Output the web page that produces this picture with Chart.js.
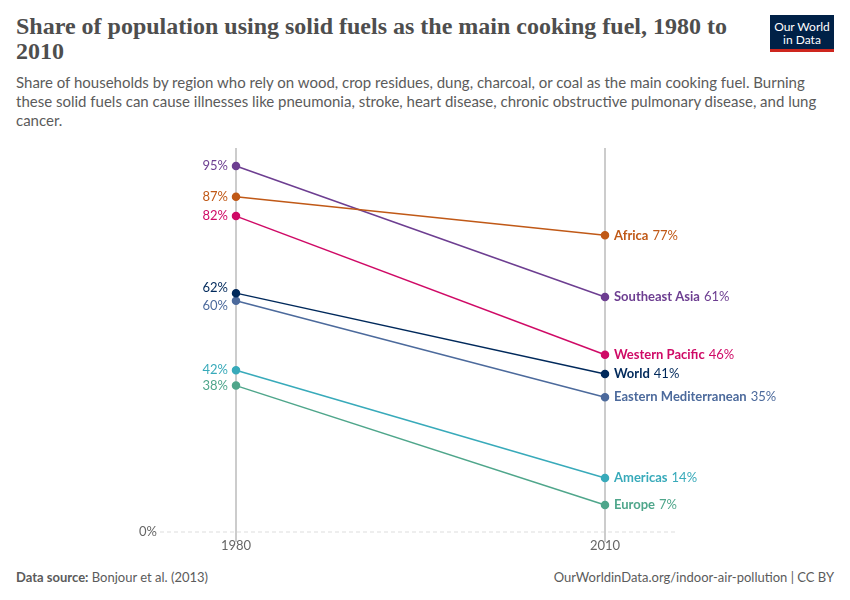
<!DOCTYPE html>
<html>
<head>
<meta charset="utf-8">
<script src="https://cdn.jsdelivr.net/npm/chart.js@4"></script>
<style>
  body { margin: 0; width: 850px; height: 600px; background: #fff; font-family: Lato, "Noto Sans", sans-serif; position: relative; overflow: hidden; }
  h1 { position: absolute; left: 16px; top: 14px; margin: 0; font-family: "Liberation Serif", "DejaVu Serif", serif; font-weight: 600; font-size: 24px; line-height: 25px; color: #4e4e4e; }
  .sub { position: absolute; left: 16px; top: 73px; width: 820px; font-size: 15px; line-height: 19px; color: #5b5b5b; }
  .logo { position: absolute; left: 770px; top: 15px; width: 64px; height: 37px; background: #002147; border-bottom: 3px solid #ce261e; color: #fff; font-size: 12px; line-height: 13px; text-align: center; box-sizing: border-box; padding-top: 5px; }
  .foot { position: absolute; top: 569px; font-size: 13px; color: #5b5b5b; }
  #wrap { position: absolute; left: 0; top: 140px; width: 850px; height: 420px; }
</style>
</head>
<body>
<h1>Share of population using solid fuels as the main cooking fuel, 1980 to<br>2010</h1>
<div class="sub">Share of households by region who rely on wood, crop residues, dung, charcoal, or coal as the main cooking fuel. Burning<br>these solid fuels can cause illnesses like pneumonia, stroke, heart disease, chronic obstructive pulmonary disease, and lung<br>cancer.</div>
<div class="logo">Our World<br>in Data</div>
<div id="wrap"><canvas id="chart"></canvas></div>
<div class="foot" style="left:16px"><b style="font-weight:700">Data source:</b> Bonjour et al. (2013)</div>
<div class="foot" style="right:16px">OurWorldinData.org/indoor-air-pollution | CC BY</div>
<script>
const years = [1980, 2010];
const regions = ['Africa', 'Southeast Asia', 'Western Pacific', 'World', 'Eastern Mediterranean', 'Americas', 'Europe'];
const values1980 = [87, 95, 82, 62, 60, 42, 38];
const values2010 = [77, 61, 46, 41, 35, 14, 7];
const colors = ['#c05917', '#6d3e91', '#cf0a66', '#00295b', '#4c6a9c', '#38aaba', '#4fa68b'];

const datasets = regions.map((r, i) => ({
    label: r,
    data: [{ x: years[0], y: values1980[i] }, { x: years[1], y: values2010[i] }],
    borderColor: colors[i],
    backgroundColor: colors[i],
    borderWidth: 1.5,
    pointRadius: 3.5,
    pointHoverRadius: 3.5,
    clip: false
}));

// spread labels that sit too close to each other
function spreadLabels(ys, minGap) {
    const order = ys.map((y, i) => i).sort((a, b) => ys[a] - ys[b]);
    const out = ys.slice();
    for (let k = 1; k < order.length; k++) {
        const a = order[k - 1], b = order[k];
        if (out[b] - out[a] < minGap) {
            const mid = (out[a] + out[b]) / 2;
            out[a] = mid - 9;
            out[b] = mid + 9;
        }
    }
    return out;
}

const slopePlugin = {
    id: 'slope',
    beforeDatasetsDraw(chart) {
        const ctx = chart.ctx;
        const xs = chart.scales.x, ys = chart.scales.y;
        const y0 = ys.getPixelForValue(0);
        ctx.save();
        // dashed zero line
        ctx.strokeStyle = '#dddddd';
        ctx.lineWidth = 1;
        ctx.setLineDash([4, 3]);
        ctx.beginPath();
        ctx.moveTo(160, y0);
        ctx.lineTo(678, y0);
        ctx.stroke();
        ctx.setLineDash([]);
        // vertical year lines
        ctx.strokeStyle = '#cccccc';
        ctx.lineWidth = 2;
        years.forEach(yr => {
            const x = xs.getPixelForValue(yr);
            ctx.beginPath();
            ctx.moveTo(x, 8);
            ctx.lineTo(x, y0 + 10);
            ctx.stroke();
        });
        ctx.font = '13px Lato';
        ctx.fillStyle = '#666';
        ctx.textAlign = 'center';
        ctx.textBaseline = 'top';
        years.forEach(yr => ctx.fillText(String(yr), xs.getPixelForValue(yr), y0 + 7));
        ctx.textAlign = 'right';
        ctx.textBaseline = 'middle';
        ctx.fillText('0%', 157, y0);
        ctx.restore();
    },
    afterDatasetsDraw(chart) {
        const ctx = chart.ctx;
        const xs = chart.scales.x, ys = chart.scales.y;
        ctx.save();
        ctx.textBaseline = 'middle';
        const leftY = spreadLabels(values1980.map(v => ys.getPixelForValue(v)), 14);
        const xl = xs.getPixelForValue(years[0]);
        ctx.textAlign = 'right';
        ctx.font = '13px Lato';
        values1980.forEach((v, i) => {
            ctx.fillStyle = colors[i];
            ctx.fillText(v + '%', xl - 8, leftY[i]);
        });
        const rightY = spreadLabels(values2010.map(v => ys.getPixelForValue(v)), 14);
        const xr = xs.getPixelForValue(years[1]);
        ctx.textAlign = 'left';
        values2010.forEach((v, i) => {
            ctx.fillStyle = colors[i];
            ctx.font = 'bold 13px Lato';
            ctx.fillText(regions[i], xr + 9, rightY[i]);
            const w = ctx.measureText(regions[i]).width;
            ctx.font = '13px Lato';
            ctx.fillText(v + '%', xr + 9 + w + 4, rightY[i]);
        });
        ctx.restore();
    }
};

new Chart(document.getElementById('chart'), {
    type: 'line',
    data: { datasets },
    options: {
        responsive: true,
        maintainAspectRatio: false,
        animation: false,
        layout: { padding: { left: 236, right: 245, top: 26, bottom: 28 } },
        scales: {
            x: { type: 'linear', min: 1980, max: 2010, display: false },
            y: { min: 0, max: 95, display: false }
        },
        plugins: { legend: { display: false }, tooltip: { enabled: false } }
    },
    plugins: [slopePlugin]
});
</script>
</body>
</html>
